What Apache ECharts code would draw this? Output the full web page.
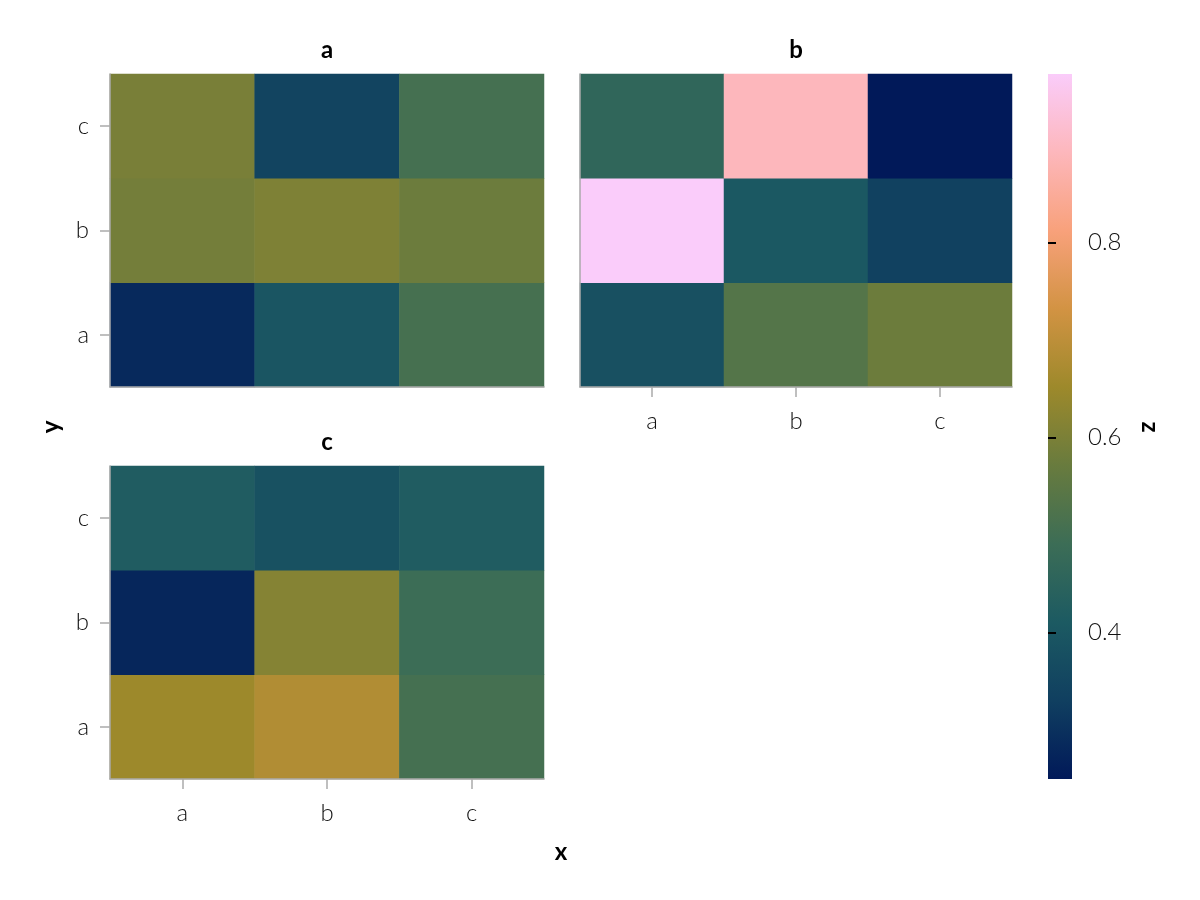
<!DOCTYPE html>
<html>
<head>
<meta charset="utf-8">
<script src="https://cdn.jsdelivr.net/npm/echarts@6/dist/echarts.min.js"></script>
<style>html,body{margin:0;padding:0;background:#fff}#c{width:1200px;height:900px}</style>
</head>
<body>
<div id="c"></div>
<script>
const categories = ['a', 'b', 'c'];
const panelTitles = ['a', 'b', 'c'];
// rows: y = a, b, c ; columns: x = a, b, c
const panelA = [[0.283, 0.395, 0.510], [0.590, 0.605, 0.577], [0.597, 0.345, 0.508]];
const panelB = [[0.382, 0.535, 0.578], [0.973, 0.405, 0.335], [0.462, 0.893, 0.250]];
const panelC = [[0.652, 0.682, 0.507], [0.278, 0.615, 0.490], [0.420, 0.385, 0.420]];
const zMin = 0.25, zMax = 0.973;
const colorbarTicks = [0.4, 0.6, 0.8];
const batlow = ['#011959', '#103F60', '#1C5A62', '#3C6D56', '#687B3E', '#9D892B', '#D29343', '#F8A17B', '#FDB7BC', '#FACCFA'];

const FONT = 'Lato, "Open Sans", sans-serif';
const AX = '#aaaaaa';

function toData(m) {
  const out = [];
  for (let yi = 0; yi < m.length; yi++)
    for (let xi = 0; xi < m[yi].length; xi++) out.push([xi, yi, m[yi][xi]]);
  return out;
}

const grids = [
  { left: 110, top: 74, width: 434, height: 313 },
  { left: 580, top: 74, width: 432, height: 313 },
  { left: 110, top: 466, width: 434, height: 313 },
  { left: 1048, top: 74, width: 24, height: 705 }
];
const cb = grids[3];

const labelStyle = { fontFamily: FONT, fontSize: 24, fontWeight: 300, color: '#111' };

function xAxis(i, showLabels) {
  return {
    type: 'category', gridIndex: i, data: categories, z: 5,
    axisLine: { show: true, lineStyle: { color: AX, width: 1.5 } },
    axisTick: { show: showLabels, alignWithLabel: true, length: 10, lineStyle: { color: AX, width: 1.5 } },
    axisLabel: Object.assign({ show: showLabels, margin: 22 }, labelStyle),
    splitLine: { show: false }
  };
}
function yAxis(i, showLabels) {
  return {
    type: 'category', gridIndex: i, data: categories, z: 5,
    axisLine: { show: true, lineStyle: { color: AX, width: 1.5 } },
    axisTick: { show: showLabels, alignWithLabel: true, length: 10, lineStyle: { color: AX, width: 1.5 } },
    axisLabel: Object.assign({ show: showLabels, margin: 21 }, labelStyle),
    splitLine: { show: false }
  };
}

const panels = [panelA, panelB, panelC];

const option = {
  backgroundColor: '#fff',
  animation: false,
  grid: grids,
  xAxis: [
    xAxis(0, false), xAxis(1, true), xAxis(2, true),
    { type: 'value', gridIndex: 3, show: false, min: 0, max: 1 }
  ],
  yAxis: [
    yAxis(0, true), yAxis(1, false), yAxis(2, true),
    {
      type: 'value', gridIndex: 3, position: 'right', min: zMin, max: zMax, z: 5,
      axisLine: { show: true, lineStyle: { color: 'rgba(0,0,0,0)', width: 0 } },
      axisTick: { show: true, length: 8, lineStyle: { color: '#000', width: 2 }, customValues: colorbarTicks },
      axisLabel: Object.assign({ margin: 16, customValues: colorbarTicks, formatter: v => v.toFixed(1) }, labelStyle),
      splitLine: { show: false }
    }
  ],
  visualMap: {
    type: 'continuous', min: zMin, max: zMax, seriesIndex: [0, 1, 2],
    inRange: { color: batlow }, show: false
  },
  series: panels.map((p, i) => ({
    type: 'heatmap', xAxisIndex: i, yAxisIndex: i, data: toData(p), z: 2,
    itemStyle: { borderWidth: 0 }, emphasis: { disabled: true }
  })).concat([{ type: 'line', xAxisIndex: 3, yAxisIndex: 3, data: [] }]),
  graphic: [
    {
      type: 'rect', z: 1, shape: { x: cb.left, y: cb.top, width: cb.width, height: cb.height },
      style: {
        fill: new echarts.graphic.LinearGradient(0, 1, 0, 0,
          batlow.map((c, i) => ({ offset: i / (batlow.length - 1), color: c })))
      }
    },
    { type: 'text', x: 327, y: 50, style: { text: panelTitles[0], font: `bold 24px ${FONT}`, fill: '#000', align: 'center', verticalAlign: 'middle' } },
    { type: 'text', x: 796, y: 50, style: { text: panelTitles[1], font: `bold 24px ${FONT}`, fill: '#000', align: 'center', verticalAlign: 'middle' } },
    { type: 'text', x: 327, y: 442, style: { text: panelTitles[2], font: `bold 24px ${FONT}`, fill: '#000', align: 'center', verticalAlign: 'middle' } },
    { type: 'text', x: 561, y: 852, style: { text: 'x', font: `bold 24px ${FONT}`, fill: '#000', align: 'center', verticalAlign: 'middle' } },
    { type: 'text', x: 51, y: 427, rotation: Math.PI / 2, style: { text: 'y', font: `bold 24px ${FONT}`, fill: '#000', align: 'center', verticalAlign: 'middle' } },
    { type: 'text', x: 1150, y: 427, rotation: -Math.PI / 2, style: { text: 'z', font: `bold 24px ${FONT}`, fill: '#000', align: 'center', verticalAlign: 'middle' } }
  ]
};

const chart = echarts.init(document.getElementById('c'), null, { renderer: 'canvas', width: 1200, height: 900 });
chart.setOption(option);
</script>
</body>
</html>
